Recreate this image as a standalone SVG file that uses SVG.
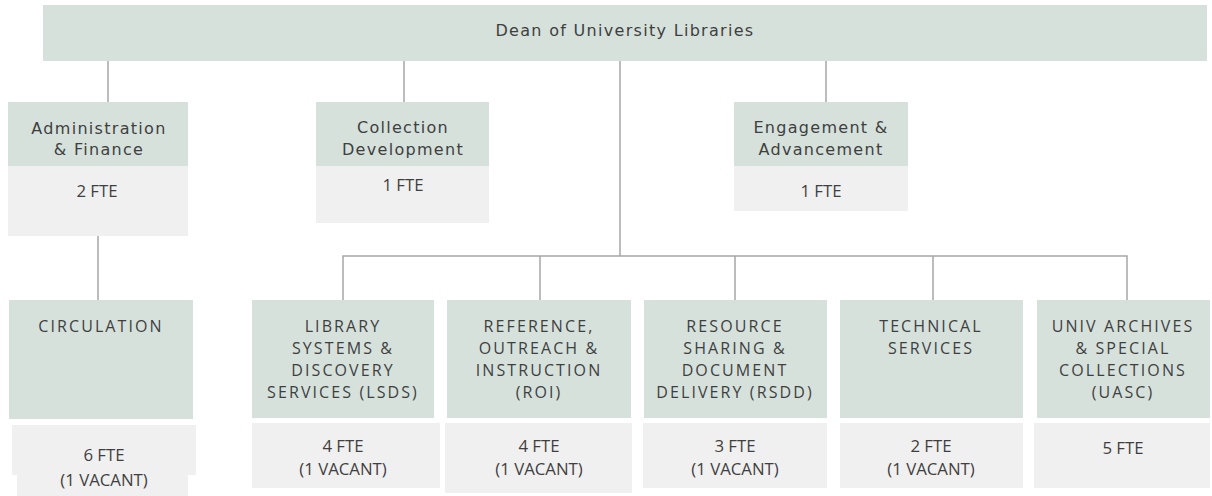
<svg xmlns="http://www.w3.org/2000/svg" width="1212" height="496" viewBox="0 0 1212 496">
<style>
.hd{fill:#d6e1dc}
.ft{fill:#f0f0f0}
.t1{font-family:"DejaVu Sans","Open Sans",sans-serif;font-size:16px;fill:#3f3f3f;text-anchor:middle;letter-spacing:1.3px}
.t2{font-family:"Open Sans","Liberation Sans",sans-serif;font-size:16px;fill:#3f3f3f;text-anchor:middle;letter-spacing:2.1px}
.t3{font-family:"Open Sans","Liberation Sans",sans-serif;font-size:16.8px;fill:#3f3f3f;text-anchor:middle}
.ln{stroke:#a6a6a6;stroke-width:1.5;fill:none}
</style>
<rect width="1212" height="496" fill="#ffffff"/>
<g id="connectors">
<line class="ln" x1="108" y1="61" x2="108" y2="102"/>
<line class="ln" x1="404" y1="61" x2="404" y2="102"/>
<line class="ln" x1="826" y1="61" x2="826" y2="102"/>
<line class="ln" x1="620" y1="61" x2="620" y2="256"/>
<line class="ln" x1="98" y1="236" x2="98" y2="300"/>
<polyline class="ln" points="343,300 343,256 1127,256 1127,300"/>
<line class="ln" x1="540" y1="256" x2="540" y2="300"/>
<line class="ln" x1="735" y1="256" x2="735" y2="300"/>
<line class="ln" x1="933" y1="256" x2="933" y2="300"/>
</g>
<g id="dean">
<rect class="hd" x="43" y="5" width="1164" height="56"/>
<text class="t1" x="625" y="36">Dean of University Libraries</text>
</g>
<g id="admin">
<rect class="hd" x="8" y="102" width="180" height="64"/>
<rect class="ft" x="8" y="166" width="180" height="70"/>
<text class="t1" x="99" y="134">Administration</text>
<text class="t1" x="99" y="155">&amp; Finance</text>
<text class="t3" x="97" y="197">2 FTE</text>
</g>
<g id="collection">
<rect class="hd" x="316" y="102" width="173" height="64"/>
<rect class="ft" x="316" y="166" width="173" height="57"/>
<text class="t1" x="403" y="133">Collection</text>
<text class="t1" x="403" y="155">Development</text>
<text class="t3" x="403" y="191">1 FTE</text>
</g>
<g id="engagement">
<rect class="hd" x="734" y="102" width="174" height="64"/>
<rect class="ft" x="734" y="166" width="174" height="45"/>
<text class="t1" x="821" y="133">Engagement &amp;</text>
<text class="t1" x="821" y="155">Advancement</text>
<text class="t3" x="821" y="197">1 FTE</text>
</g>
<g id="circulation">
<rect class="hd" x="9" y="300" width="184" height="119"/>
<rect class="ft" x="12" y="425" width="184" height="50"/>
<rect class="ft" x="17" y="475" width="171" height="21"/>
<text class="t2" x="101" y="332">CIRCULATION</text>
<text class="t3" x="104" y="461">6 FTE</text>
<text class="t3" x="104" y="486">(1 VACANT)</text>
</g>
<g id="lsds">
<rect class="hd" x="252" y="300" width="182" height="118"/>
<rect class="ft" x="252" y="423" width="188" height="65"/>
<text class="t2" x="343" y="332">LIBRARY</text>
<text class="t2" x="343" y="354">SYSTEMS &amp;</text>
<text class="t2" x="343" y="376">DISCOVERY</text>
<text class="t2" x="343" y="398">SERVICES (LSDS)</text>
<text class="t3" x="343" y="452">4 FTE</text>
<text class="t3" x="343" y="475">(1 VACANT)</text>
</g>
<g id="roi">
<rect class="hd" x="447" y="300" width="184" height="118"/>
<rect class="ft" x="445" y="423" width="187" height="70"/>
<text class="t2" x="539" y="332">REFERENCE,</text>
<text class="t2" x="539" y="354">OUTREACH &amp;</text>
<text class="t2" x="539" y="376">INSTRUCTION</text>
<text class="t2" x="539" y="398">(ROI)</text>
<text class="t3" x="539" y="452">4 FTE</text>
<text class="t3" x="539" y="475">(1 VACANT)</text>
</g>
<g id="rsdd">
<rect class="hd" x="644" y="300" width="183" height="118"/>
<rect class="ft" x="643" y="423" width="184" height="65"/>
<text class="t2" x="735" y="332">RESOURCE</text>
<text class="t2" x="735" y="354">SHARING &amp;</text>
<text class="t2" x="735" y="376">DOCUMENT</text>
<text class="t2" x="735" y="398">DELIVERY (RSDD)</text>
<text class="t3" x="735" y="452">3 FTE</text>
<text class="t3" x="735" y="475">(1 VACANT)</text>
</g>
<g id="technical">
<rect class="hd" x="840" y="300" width="183" height="118"/>
<rect class="ft" x="840" y="423" width="183" height="65"/>
<text class="t2" x="931" y="332">TECHNICAL</text>
<text class="t2" x="931" y="354">SERVICES</text>
<text class="t3" x="931" y="452">2 FTE</text>
<text class="t3" x="931" y="475">(1 VACANT)</text>
</g>
<g id="uasc">
<rect class="hd" x="1037" y="300" width="173" height="118"/>
<rect class="ft" x="1034" y="423" width="176" height="65"/>
<text class="t2" x="1123" y="332">UNIV ARCHIVES</text>
<text class="t2" x="1123" y="354">&amp; SPECIAL</text>
<text class="t2" x="1123" y="376">COLLECTIONS</text>
<text class="t2" x="1123" y="398">(UASC)</text>
<text class="t3" x="1123" y="454">5 FTE</text>
</g>
</svg>
